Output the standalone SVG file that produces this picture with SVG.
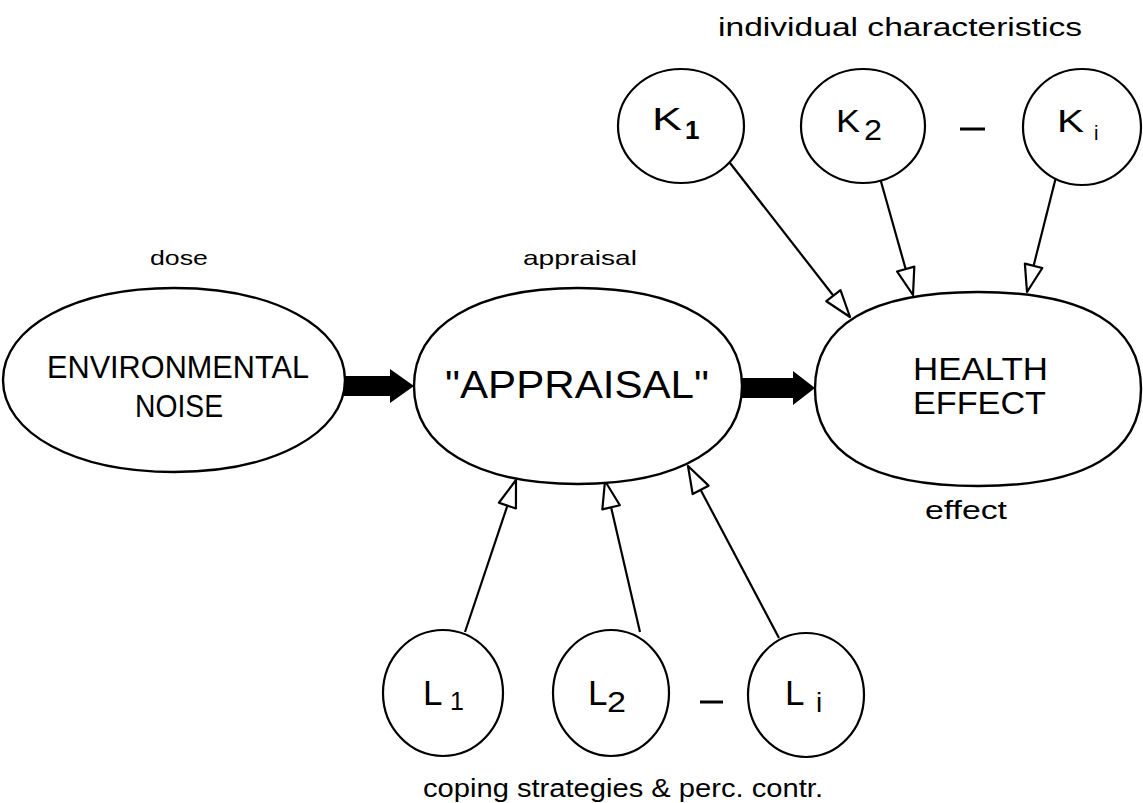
<svg xmlns="http://www.w3.org/2000/svg" width="1143" height="803" viewBox="0 0 1143 803">
<style>
  .shape { fill: #fff; stroke: #000; stroke-width: 2.4; }
  .circ { fill: #fff; stroke: #000; stroke-width: 2.2; }
  .conn { stroke: #000; stroke-width: 2.2; fill: none; }
  .thick { fill: #000; stroke: none; }
  .dash { stroke: #000; stroke-width: 3; }
  text { font-family: "Liberation Sans", Arial, sans-serif; fill: #000; }
  .lbl { font-size: 25px; }
  .lbls { font-size: 21px; }
</style>
<defs>
  <marker id="open" viewBox="-30 -12 33 24" refX="0" refY="0" markerWidth="33" markerHeight="24" markerUnits="userSpaceOnUse" orient="auto">
    <path d="M0,0 L-27,-9 L-27,9 Z" fill="#fff" stroke="#000" stroke-width="2.2" stroke-linejoin="round"/>
  </marker>
</defs>
<rect width="1143" height="803" fill="#fff"/>

<!-- labels -->
<text class="lbl" x="718" y="36" textLength="364" lengthAdjust="spacingAndGlyphs">individual  characteristics</text>
<text class="lbls" x="150" y="265" textLength="58" lengthAdjust="spacingAndGlyphs">dose</text>
<text class="lbls" x="523" y="265" textLength="114" lengthAdjust="spacingAndGlyphs">appraisal</text>
<text class="lbl" x="925" y="519" textLength="82" lengthAdjust="spacingAndGlyphs">effect</text>
<text class="lbl" x="423" y="797" textLength="400" lengthAdjust="spacingAndGlyphs">coping  strategies  &amp;  perc.  contr.</text>

<!-- connectors -->
<g id="connectors">
  <polygon class="thick" points="343,376 390,376 390,369 414,386 390,403 390,396 343,396"/>
  <polygon class="thick" points="741,378 793,378 793,371 815,388 793,405 793,398 741,398"/>
  <line class="conn" x1="730" y1="163" x2="850" y2="317" marker-end="url(#open)"/>
  <line class="conn" x1="880" y1="178" x2="913" y2="295" marker-end="url(#open)"/>
  <line class="conn" x1="1057" y1="173" x2="1027" y2="292" marker-end="url(#open)"/>
  <line class="conn" x1="465" y1="632" x2="516" y2="480" marker-end="url(#open)"/>
  <line class="conn" x1="640" y1="632" x2="605" y2="481" marker-end="url(#open)"/>
  <line class="conn" x1="779" y1="638" x2="688" y2="466" marker-end="url(#open)"/>
</g>

<!-- big nodes -->
<g id="environmental-noise">
  <path class="shape" d="M345,380 C345,433.4 273.2,472 174,472 C74.8,472 3,433.4 3,380 C3,326.6 74.8,288 174,288 C273.2,288 345,326.6 345,380 Z"/>
  <text x="47" y="378" font-size="32" textLength="262" lengthAdjust="spacingAndGlyphs">ENVIRONMENTAL</text>
  <text x="135" y="417" font-size="32" textLength="88" lengthAdjust="spacingAndGlyphs">NOISE</text>
</g>
<g id="appraisal">
  <path class="shape" d="M742,386 C742,446.8 679.7,484 578,484 C476.3,484 414,446.8 414,386 C414,325.2 476.3,288 578,288 C679.7,288 742,325.2 742,386 Z"/>
  <text x="445" y="398" font-size="39" textLength="264" lengthAdjust="spacingAndGlyphs">"APPRAISAL"</text>
</g>
<g id="health-effect">
  <path class="shape" d="M1141,389 C1141,453 1085.6,486 978,486 C870.4,486 815,453 815,389 C815,325 870.4,292 978,292 C1085.6,292 1141,325 1141,389 Z"/>
  <text x="913" y="380" font-size="31" textLength="135" lengthAdjust="spacingAndGlyphs">HEALTH</text>
  <text x="913" y="414" font-size="31" textLength="133" lengthAdjust="spacingAndGlyphs">EFFECT</text>
</g>

<!-- K nodes -->
<g id="K1">
  <ellipse class="circ" cx="681" cy="126" rx="63" ry="57"/>
  <text x="652" y="130" font-size="32" textLength="30" lengthAdjust="spacingAndGlyphs">K</text>
  <text x="685" y="139" font-size="26" font-weight="bold">1</text>
</g>
<g id="K2">
  <ellipse class="circ" cx="863" cy="126" rx="62" ry="57"/>
  <text x="836" y="132" font-size="32" textLength="24" lengthAdjust="spacingAndGlyphs">K</text>
  <text x="864" y="140" font-size="30" textLength="18" lengthAdjust="spacingAndGlyphs">2</text>
</g>
<line class="dash" x1="960" y1="129" x2="985" y2="129"/>
<g id="Ki">
  <ellipse class="circ" cx="1082" cy="127" rx="59" ry="58"/>
  <text x="1057" y="132" font-size="32" textLength="27" lengthAdjust="spacingAndGlyphs">K</text>
  <text x="1094" y="140" font-size="20">i</text>
</g>

<!-- L nodes -->
<g id="L1">
  <ellipse class="circ" cx="443" cy="693" rx="60" ry="63"/>
  <text x="423" y="705" font-size="35">L</text>
  <text x="450" y="710" font-size="25">1</text>
</g>
<g id="L2">
  <ellipse class="circ" cx="611" cy="693" rx="58" ry="63"/>
  <text x="588" y="705" font-size="35">L</text>
  <text x="607" y="712" font-size="30" textLength="19" lengthAdjust="spacingAndGlyphs">2</text>
</g>
<line class="dash" x1="700" y1="702" x2="723" y2="702"/>
<g id="Li">
  <ellipse class="circ" cx="806" cy="695" rx="58" ry="62"/>
  <text x="785" y="705" font-size="35">L</text>
  <text x="816" y="712" font-size="28">i</text>
</g>
</svg>
